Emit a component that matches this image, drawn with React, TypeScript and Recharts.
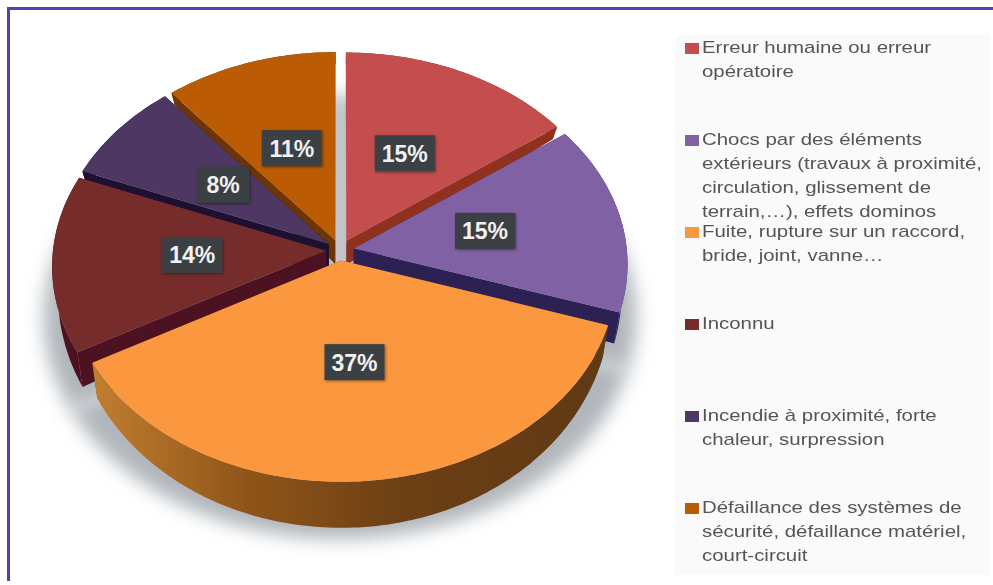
import React from "react";
import { PieChart, Pie, Legend } from "recharts";

// Share of incidents per cause, clockwise from twelve o'clock.
const categories = [
  "Erreur humaine ou erreur\nopératoire",
  "Chocs par des éléments\nextérieurs (travaux à proximité,\ncirculation, glissement de\nterrain,…), effets dominos",
  "Fuite, rupture sur un raccord,\nbride, joint, vanne…",
  "Inconnu",
  "Incendie à proximité, forte\nchaleur, surpression",
  "Défaillance des systèmes de\nsécurité, défaillance matériel,\ncourt-circuit",
];
const shares = [15, 15, 37, 14, 8, 11];
const topColors = ["#c44e4e", "#8062a4", "#fb983f", "#772c2c", "#4e3763", "#bb5c05"];
const wallColors = ["#90301f", "#2c2152", "url(#orangeWall)", "#4c1222", "#1e1030", "#6e3503"];
// Back slices are painted first so front slices can cover their walls.
const paintOrder = [5, 4, 3, 0, 1, 2];

const slices = categories.map((name, i) => ({ name, value: shares[i], fill: topColors[i] }));

const WIDTH = 993;
const HEIGHT = 585;
const CX = 340;
const CY = 250;
const RADIUS = 273;
const EXPLODE = 14;
const TILT = 0.745;
const PERSPECTIVE = 0.074;

type Pt = [number, number];

// Maps a point on the pie's plane to the tilted view.
function project(cx: number, cy: number, R: number, X: number, Y: number): Pt {
  const s = 1 / (1 - (PERSPECTIVE * Y) / R);
  return [cx + X * s, cy + Y * TILT * s];
}

const wallDepth = (yNorm: number) => Math.max(12, 25 + 20 * yNorm);

function toPath(points: Pt[]) {
  return "M" + points.map((p) => `${p[0].toFixed(1)},${p[1].toFixed(1)}`).join("L") + "Z";
}

function arcAngles(start: number, end: number) {
  const n = Math.max(2, Math.ceil(Math.abs(end - start)));
  return Array.from({ length: n + 1 }, (_, i) => start + ((end - start) * i) / n);
}

function offsetFor(start: number, end: number): Pt {
  const mid = (((start + end) / 2) * Math.PI) / 180;
  return [EXPLODE * Math.cos(mid), -EXPLODE * Math.sin(mid)];
}

function SliceShape(props: any) {
  const { cx, cy, outerRadius: R, startAngle, endAngle, index } = props;
  const [ox, oy] = offsetFor(startAngle, endAngle);
  const planeAt = (a: number): Pt => {
    const t = (a * Math.PI) / 180;
    return [R * Math.cos(t) + ox, -R * Math.sin(t) + oy];
  };
  const top = (p: Pt) => project(cx, cy, R, p[0], p[1]);
  const base = (p: Pt): Pt => {
    const q = top(p);
    return [q[0] - (q[0] - cx) * 0.02, q[1] + wallDepth(p[1] / R)];
  };
  const plane = arcAngles(startAngle, endAngle).map(planeAt);
  const apex: Pt = [ox, oy];
  const rim = plane.map(top);
  const rimBase = plane.map(base);
  const first = plane[0];
  const last = plane[plane.length - 1];
  const wall = wallColors[index];
  const sideFill = wall.startsWith("url") ? "#6b3d12" : wall;
  return (
    <g>
      <path d={toPath([top(apex), top(first), base(first), base(apex)])} fill={sideFill} />
      <path d={toPath([top(apex), top(last), base(last), base(apex)])} fill={sideFill} />
      <path d={toPath([...rim, ...rimBase.slice().reverse()])} fill={wall} />
      <path d={toPath([top(apex), ...rim])} fill={topColors[index]} />
    </g>
  );
}

function ShadowShape(props: any) {
  const { cx, cy, outerRadius: R, startAngle, endAngle } = props;
  const points = arcAngles(startAngle, endAngle).map((a) => {
    const t = (a * Math.PI) / 180;
    const q = project(cx, cy, R, 1.08 * R * Math.cos(t), -1.08 * R * Math.sin(t));
    return [q[0], q[1] + 50] as Pt;
  });
  return <path d={toPath([[cx, cy + 50], ...points])} fill="#b0b6bb" stroke="#b0b6bb" filter="url(#pieShadow)" />;
}

function PercentLabel(props: any) {
  const { cx, cy, outerRadius: R, startAngle, endAngle, midAngle, value } = props;
  const [ox, oy] = offsetFor(startAngle, endAngle);
  const t = (midAngle * Math.PI) / 180;
  const [x, yRaw] = project(cx, cy, R, 0.49 * R * Math.cos(t) + ox, -0.49 * R * Math.sin(t) + oy);
  const y = yRaw - 2;
  const text = `${value}%`;
  const w = text.length > 2 ? 60 : 52;
  return (
    <g>
      <rect x={x - w / 2} y={y - 18} width={w} height={36} fill="#3a3f44" filter="url(#boxShadow)" />
      <text
        x={x}
        y={y + 8.5}
        textAnchor="middle"
        fontFamily="'Liberation Sans', Arial, sans-serif"
        fontWeight={700}
        fontSize={23}
        fill="#f1f1f1"
      >
        {text}
      </text>
    </g>
  );
}

function CauseLegend({ payload }: any) {
  const seen = new Set<string>();
  const items = (payload || []).filter((it: any) => {
    if (seen.has(it.value)) return false;
    seen.add(it.value);
    return true;
  });
  return (
    <div style={{ width: 315, height: 540, background: "#fafafa", position: "relative" }}>
      {items.map((it: any, i: number) => (
        <div key={it.value} style={{ position: "absolute", left: 0, top: 1 + i * 92, height: 92 }}>
          <span
            style={{ position: "absolute", left: 10, top: 7, width: 14, height: 11, background: it.color }}
          />
          <div
            style={{
              position: "absolute",
              left: 27,
              top: 0,
              width: 260,
              font: "17px/24px 'Liberation Sans', Arial, sans-serif",
              color: "#555",
              whiteSpace: "pre",
              transform: "scaleX(1.2)",
              transformOrigin: "left top",
            }}
          >
            {it.value}
          </div>
        </div>
      ))}
    </div>
  );
}

export default function App() {
  const shared = {
    data: slices,
    dataKey: "value",
    nameKey: "name",
    cx: CX,
    cy: CY,
    outerRadius: RADIUS,
    startAngle: 90,
    endAngle: -270,
    stroke: "none",
    isAnimationActive: false,
  };
  return (
    <div style={{ position: "absolute", left: 0, top: 0, width: WIDTH, height: HEIGHT, background: "#fff" }}>
      <div
        style={{
          position: "absolute",
          left: 7,
          top: 7,
          right: 0,
          bottom: 4,
          borderLeft: "3px solid #4a45b5",
          borderTop: "3px solid #4a45b5",
        }}
      />
      <PieChart width={WIDTH} height={HEIGHT} margin={{ top: 0, right: 0, bottom: 0, left: 0 }} style={{ position: "absolute", left: 0, top: 0 }}>
        <defs>
          <filter id="pieShadow" x="-20%" y="-20%" width="140%" height="140%">
            <feGaussianBlur stdDeviation="9" />
          </filter>
          <filter id="boxShadow" x="-20%" y="-20%" width="140%" height="140%">
            <feDropShadow dx="1" dy="1" stdDeviation="1.5" floodColor="#000" floodOpacity="0.45" />
          </filter>
          <linearGradient id="orangeWall" x1="0" y1="0" x2="1" y2="0">
            <stop offset="0" stopColor="#c07e30" />
            <stop offset="0.3" stopColor="#8f5518" />
            <stop offset="0.6" stopColor="#6d3f14" />
            <stop offset="1" stopColor="#5f3a14" />
          </linearGradient>
        </defs>
        <Pie {...shared} legendType="none" shape={(p: any) => <ShadowShape {...p} />} />
        {paintOrder.map((idx) => (
          <Pie
            key={idx}
            {...shared}
            legendType="none"
            shape={(p: any) => (p.index === idx ? <SliceShape {...p} /> : <g />)}
          />
        ))}
        <Pie
          {...shared}
          shape={() => <g />}
          labelLine={false}
          label={(p: any) => <PercentLabel {...p} />}
        />
        <Legend
          layout="vertical"
          align="right"
          verticalAlign="top"
          itemSorter={null}
          content={(p: any) => <CauseLegend {...p} />}
          wrapperStyle={{ position: "absolute", left: 675, top: 35, width: 315, height: 540 }}
        />
      </PieChart>
    </div>
  );
}
